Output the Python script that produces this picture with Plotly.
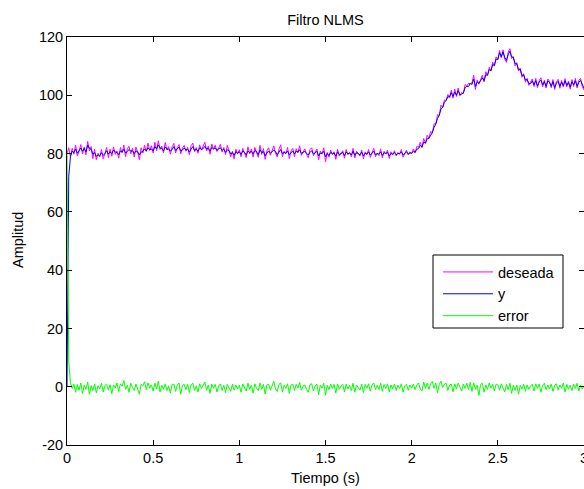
import plotly.graph_objects as go

# time axis in seconds (step 0.01 s)
tiempo = [i / 100 for i in range(301)]

deseada = [
    80.0, 82.0, 78.9, 81.8, 79.8, 82.9, 79.2, 80.7, 83.1, 79.9,
    82.3, 79.6, 84.2, 80.9, 82.4, 78.3, 81.5, 77.9, 80.1, 78.8,
    81.4, 78.2, 80.0, 82.1, 78.6, 81.5, 79.1, 82.3, 79.7, 80.9,
    78.4, 82.1, 80.3, 82.9, 78.9, 81.6, 82.5, 79.9, 81.8, 78.8,
    82.2, 80.5, 77.9, 82.0, 80.2, 82.8, 80.7, 83.6, 81.1, 82.7,
    80.2, 83.9, 81.0, 84.4, 81.4, 82.6, 80.3, 83.8, 81.2, 82.4,
    79.8, 82.3, 83.5, 80.2, 82.0, 83.1, 79.9, 81.9, 82.8, 80.8,
    82.2, 79.6, 82.7, 83.6, 80.6, 82.1, 80.1, 83.0, 81.2, 82.5,
    83.9, 80.9, 82.6, 79.8, 83.3, 81.5, 82.9, 80.7, 82.3, 83.2,
    80.5, 82.1, 79.6, 82.8, 81.0, 78.9, 80.8, 78.1, 81.5, 79.8,
    81.3, 78.9, 81.8, 80.1, 78.6, 82.3, 79.9, 81.6, 78.8, 82.1,
    80.5, 78.7, 82.8, 79.7, 81.7, 78.0, 81.0, 82.0, 79.4, 80.9,
    82.6, 80.1, 78.8, 81.5, 83.0, 78.9, 80.8, 79.9, 82.1, 78.3,
    80.9, 81.8, 78.9, 81.7, 80.3, 82.7, 79.4, 80.5, 81.6, 79.7,
    78.6, 81.4, 82.0, 79.3, 80.5, 81.6, 77.8, 80.9, 79.8, 82.0,
    77.2, 80.4, 78.8, 81.2, 79.7, 80.6, 78.0, 81.5, 79.1, 80.2,
    81.0, 78.4, 81.4, 79.6, 80.4, 78.9, 81.8, 78.5, 80.8, 80.0,
    79.1, 81.2, 78.2, 80.6, 79.6, 81.4, 78.7, 80.4, 81.8, 78.9,
    80.2, 79.3, 81.6, 78.5, 80.8, 79.8, 81.2, 78.3, 80.6, 79.5,
    81.0, 79.2, 80.4, 79.7, 81.4, 78.8, 80.2, 81.2, 79.5, 80.6,
    80.0, 81.6, 80.3, 82.4, 82.2, 83.9, 82.0, 85.2, 83.5, 86.3,
    85.2, 87.6, 87.1, 90.2, 90.1, 93.4, 93.0, 96.6, 95.7, 98.4,
    98.2, 100.3, 99.2, 101.8, 99.0, 102.1, 99.6, 102.5, 99.8, 101.0,
    100.6, 103.7, 103.2, 104.1, 103.9, 104.3, 106.9, 102.0, 105.3, 103.8,
    105.4, 106.9, 104.6, 108.1, 106.8, 109.6, 108.3, 111.4, 110.0, 113.2,
    112.2, 115.4, 112.9, 115.6, 112.4, 111.3, 114.8, 116.0, 112.6, 113.3,
    110.1, 111.2, 108.3, 109.3, 106.2, 107.4, 104.5, 105.8, 103.4, 104.4,
    105.6, 103.0, 105.8, 102.6, 105.0, 106.0, 102.9, 105.2, 102.5, 105.6,
    104.8, 102.6, 105.4, 102.0, 104.7, 105.5, 102.4, 105.1, 102.8, 105.7,
    102.9, 104.9, 102.1, 105.4, 103.0, 105.8, 102.5, 105.1, 105.8, 103.0, 101.8,
]

salida_y = [
    0.0, 72.0, 79.0, 80.8, 80.3, 81.6, 80.1, 80.9, 81.9, 80.8,
    81.8, 80.6, 82.9, 81.8, 81.5, 79.8, 80.3, 79.0, 79.6, 79.2,
    80.3, 79.4, 79.9, 81.0, 79.8, 80.6, 80.0, 81.2, 80.5, 80.4,
    79.6, 80.9, 80.5, 81.5, 80.2, 80.7, 81.4, 80.8, 81.0, 80.0,
    80.9, 80.6, 79.5, 80.5, 80.7, 81.6, 80.9, 82.0, 81.3, 81.6,
    80.9, 82.4, 81.6, 83.0, 81.9, 81.8, 80.9, 82.3, 81.5, 81.6,
    80.8, 81.4, 82.4, 81.1, 81.5, 82.2, 80.9, 81.2, 81.9, 81.2,
    81.5, 80.5, 81.5, 82.4, 81.1, 81.5, 80.8, 82.0, 81.4, 81.7,
    82.5, 81.5, 81.8, 80.9, 82.1, 81.6, 82.0, 81.1, 81.6, 82.0,
    81.1, 81.5, 80.4, 81.3, 81.1, 79.9, 80.3, 79.4, 80.6, 80.2,
    80.6, 79.7, 80.9, 80.4, 79.5, 80.9, 80.3, 80.8, 79.9, 81.0,
    80.7, 79.6, 81.3, 80.3, 80.7, 79.2, 80.2, 80.9, 80.1, 80.6,
    81.2, 80.7, 79.6, 80.5, 81.4, 80.0, 80.4, 80.1, 80.9, 79.6,
    80.4, 80.9, 79.9, 80.8, 80.5, 81.3, 80.1, 80.4, 80.8, 80.1,
    79.5, 80.4, 81.0, 79.9, 80.2, 80.8, 79.2, 80.2, 80.0, 80.8,
    78.9, 80.0, 79.3, 80.4, 79.9, 80.2, 79.1, 80.6, 79.7, 80.0,
    80.4, 79.3, 80.6, 79.9, 80.2, 79.5, 80.8, 79.4, 80.3, 80.0,
    79.6, 80.5, 79.2, 80.1, 79.8, 80.6, 79.5, 80.1, 80.8, 79.6,
    80.0, 79.8, 80.6, 79.4, 80.3, 80.0, 80.4, 79.2, 80.0, 79.8,
    80.4, 79.6, 80.0, 80.0, 80.6, 79.5, 80.0, 80.6, 79.9, 80.2,
    80.1, 80.8, 80.4, 81.5, 81.7, 82.8, 82.3, 83.9, 83.6, 85.1,
    85.2, 86.4, 87.2, 89.0, 90.1, 92.1, 93.1, 95.3, 95.9, 97.6,
    98.2, 99.5, 99.4, 100.9, 99.6, 101.1, 100.0, 101.6, 100.2, 100.4,
    100.8, 102.6, 103.1, 103.0, 104.1, 103.7, 105.6, 103.0, 104.6, 104.1,
    104.9, 106.0, 105.0, 107.0, 106.9, 108.8, 108.5, 110.5, 110.3, 112.4,
    112.3, 114.6, 113.2, 114.9, 113.0, 112.0, 113.9, 115.1, 113.2, 113.0,
    110.9, 110.8, 108.8, 108.9, 106.8, 107.0, 105.2, 105.4, 104.0, 104.0,
    104.9, 103.6, 105.0, 103.2, 104.6, 105.2, 103.5, 104.7, 103.1, 104.9,
    104.4, 103.1, 104.7, 102.7, 104.2, 104.8, 103.1, 104.5, 103.3, 105.0,
    103.4, 104.4, 102.8, 104.6, 103.6, 105.0, 103.1, 104.5, 105.1, 103.5, 102.4,
]

error = [
    80.5, 8.7, 1.5, -0.6, 0.9, -1.9, 0.8, -1.2, 1.3, -2.3,
    0.6, -0.9, 1.6, -2.6, 0.4, -1.3, 1.0, -2.1, 0.3, -0.8,
    1.2, -1.8, 0.4, 0.9, -1.2, 0.7, -2.4, 0.6, -0.5, 1.3,
    -1.6, 1.0, 0.2, 2.1, -0.9, 0.5, -1.9, 1.2, -0.3, -1.3,
    0.9, -0.6, -2.6, 0.8, 0.3, 1.7, -1.0, 1.3, -0.5, 0.6,
    -1.5, 1.2, -0.8, 1.9, -1.8, 0.5, -0.9, 1.0, -1.3, 0.3,
    -2.2, 0.8, 0.9, -1.6, 0.6, 1.3, -2.6, 0.5, 0.8, -1.0,
    0.9, -2.0, 0.6, 1.2, -1.3, 0.3, -1.8, 1.0, -0.6, 0.5,
    1.6, -1.2, 0.6, -2.3, 0.9, -0.5, 0.8, -1.8, 0.3, 1.0,
    -1.3, 0.5, -2.0, 0.8, -0.3, -1.6, 0.9, -1.2, 0.6, -0.8,
    0.5, -1.9, 0.9, -0.6, -1.5, 1.2, -0.9, 0.5, -2.2, 1.0,
    -0.6, -1.3, 1.3, -0.9, 0.8, -2.5, 0.6, 0.9, -1.2, 0.3,
    1.9, -0.8, -1.6, 0.8, 1.3, -1.8, 0.5, -0.6, 1.0, -2.3,
    0.6, 0.9, -1.3, 0.8, -0.5, 1.5, -1.2, 0.3, 0.6, -0.9,
    -1.9, 0.8, 1.0, -1.5, 0.3, 0.9, -2.8, 0.6, -0.5, 1.2,
    -2.9, 0.5, -1.0, 0.9, -0.6, 0.8, -2.2, 1.0, -0.9, 0.3,
    0.8, -1.8, 0.9, -0.8, 0.5, -1.3, 1.2, -1.9, 0.6, -0.3,
    -1.2, 0.9, -2.0, 0.8, -0.5, 1.0, -1.5, 0.6, 1.3, -1.0,
    0.5, -0.9, 1.2, -1.6, 0.8, -0.6, 1.0, -1.8, 0.6, -0.8,
    0.9, -1.3, 0.5, -0.6, 1.0, -1.9, 0.3, 0.8, -1.2, 0.6,
    -0.5, 0.9, -1.0, 0.6, 1.3, -0.8, -1.5, 1.6, -0.6, 1.2,
    -0.9, 1.0, 1.8, -0.5, 1.3, -2.0, 0.8, 1.9, -0.3, 0.9,
    1.2, -1.3, 0.6, 0.9, -1.8, 1.0, -0.8, 1.3, -0.5, -1.5,
    0.9, -0.6, 1.2, -1.0, 1.5, -1.6, 1.3, -0.9, 0.5, -3.0,
    0.8, 1.2, -1.9, 0.6, -0.9, 1.3, -0.5, 0.8, -1.5, 0.9,
    0.6, -1.2, 1.0, -0.5, -1.8, 0.8, -1.0, 1.2, -2.3, 0.5,
    -1.3, 0.6, -2.6, 0.5, -0.8, 0.9, -1.6, 0.6, -0.9, 0.3,
    0.8, -1.5, 1.0, -0.6, 0.9, -1.9, 0.5, 1.2, -1.0, 0.6,
    -0.8, 0.9, -1.6, 0.5, 1.0, -1.2, 0.6, -0.5, 1.3, -1.8,
    0.8, -0.9, 0.5, -1.3, 0.9, -0.6, 1.2, -1.5, 0.5, -0.8, 0.3,
]

x_ticks = [0, 0.5, 1, 1.5, 2, 2.5, 3]
x_ticktext = ["0", "0.5", "1", "1.5", "2", "2.5", "3"]
y_ticks = [-20, 0, 20, 40, 60, 80, 100, 120]
y_ticktext = ["-20", "0", "20", "40", "60", "80", "100", "120"]

FONT = "Arial, Liberation Sans, Helvetica, sans-serif"
FS = 14.5

# plot area in pixels
L, R, T, B = 67, 0, 37, 44
W, H = 584, 489
PW, PH = W - L - R, H - T - B


def px_x(px):
    return (px - L) / PW


def px_y(py):
    return (H - B - py) / PH


fig = go.Figure()
fig.add_trace(go.Scatter(x=tiempo, y=deseada, mode="lines", name="deseada",
                         line=dict(color="#FF00FF", width=1)))
fig.add_trace(go.Scatter(x=tiempo, y=salida_y, mode="lines", name="y",
                         line=dict(color="#0000FF", width=1)))
fig.add_trace(go.Scatter(x=tiempo, y=error, mode="lines", name="error",
                         line=dict(color="#00FF00", width=1)))

axis_common = dict(
    showgrid=False, zeroline=False, showline=True, linecolor="black",
    linewidth=1, mirror="ticks", ticks="inside", ticklen=5, tickwidth=1,
    tickcolor="black", tickfont=dict(family=FONT, size=FS, color="black"),
    ticklabeloverflow="allow",
)

fig.update_layout(
    width=W, height=H,
    margin=dict(l=L, r=R, t=T, b=B, autoexpand=False),
    paper_bgcolor="white", plot_bgcolor="white",
    font=dict(family=FONT, size=FS, color="black"),
    title=dict(text="Filtro NLMS", x=0.5, xref="paper", xanchor="center",
               y=1 - 20 / H, yanchor="middle",
               font=dict(family=FONT, size=FS, color="black")),
    xaxis=dict(range=[0, 3], tickvals=x_ticks, ticktext=x_ticktext,
               **axis_common),
    yaxis=dict(range=[-20, 120], tickvals=y_ticks, ticktext=y_ticktext,
               **axis_common),
    annotations=[
        dict(text="Tiempo (s)", xref="paper", yref="paper", x=px_x(325),
             y=px_y(478), xanchor="center", yanchor="middle",
             showarrow=False, font=dict(family=FONT, size=FS, color="black")),
        dict(text="Amplitud", xref="paper", yref="paper", x=px_x(18),
             y=px_y(240), xanchor="center", yanchor="middle", textangle=-90,
             showarrow=False, font=dict(family=FONT, size=FS, color="black")),
    ],
    shapes=[
        dict(type="rect", xref="paper", yref="paper", x0=px_x(433),
             x1=px_x(563), y0=px_y(328), y1=px_y(255), layer="above",
             fillcolor="white", line=dict(color="black", width=1)),
    ],
    legend=dict(x=px_x(438), y=px_y(256), xanchor="left", yanchor="top",
                bgcolor="rgba(0,0,0,0)", borderwidth=0, itemwidth=50,
                font=dict(family=FONT, size=FS, color="black")),
    showlegend=True,
)

fig.write_html("out.html")
